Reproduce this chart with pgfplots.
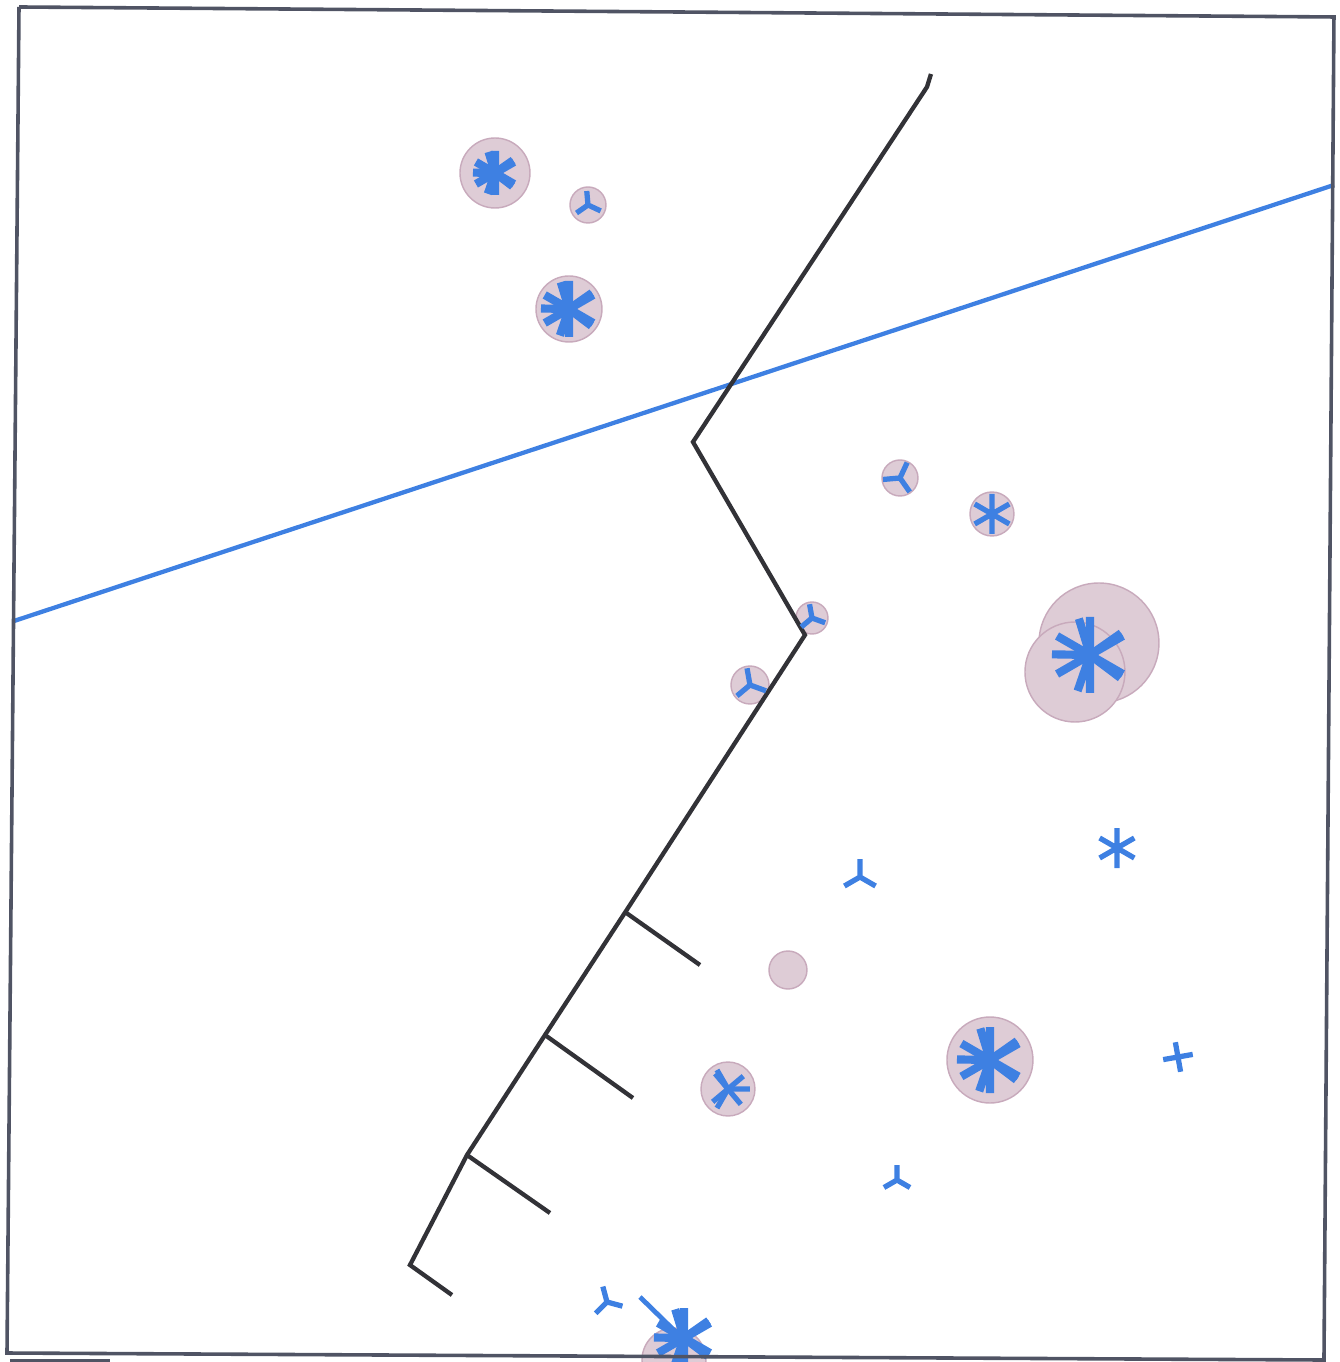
\documentclass[border=0pt]{standalone}
\usepackage{pgfplots}
\pgfplotsset{compat=1.18}
\usepackage{pgfplotstable}
\usetikzlibrary{plotmarks}
\definecolor{pinkc}{RGB}{222,204,214}
\definecolor{pinkd}{RGB}{200,170,188}
\definecolor{bluec}{RGB}{62,128,226}
\definecolor{darkc}{RGB}{50,50,55}
\definecolor{framec}{RGB}{80,84,100}
\pgfplotstableread{
x y r
495 173 35
588 205 18
569 309 33
900 478 18
992 514 22
1099 643 60
1075 672 50
812 618 16
750 685 19
788 970 19
728 1089 27
990 1060 43
674 1360 32
}\circles
\pgfplotstableread{
x y s a
495 173 22 0
569 309 28 0
1090 655 38 0
990 1060 33 0
684 1338 30 0
}\bursts
\pgfplotstableread{
x y s a
588 205 14 5
900 478 17 -25
812 618 14 10
750 685 17 10
728 1089 22 30
860 877 18 0
897 1180 15 0
607 1302 16 15
}\mercs
\pgfplotstableread{
x y s a
992 514 20 0
1117 848 20 0
}\asts
\pgfplotstableread{
x y s a
1178 1057 15 10
728 1089 20 40
}\pluses
\pgfplotsset{
 sized/.style 2 args={scatter, only marks, scatter/use mapped color={#2},
   visualization depends on={0.2089*\thisrow{#1}\as\ms},
   scatter/@pre marker code/.append style={/tikz/mark size=\ms}},
 rotated/.style={visualization depends on={\thisrow{a}\as\ang},
   scatter/@pre marker code/.append style={/tikz/rotate=\ang}}
}
\begin{document}
\begin{tikzpicture}
\begin{axis}[
  scale only axis, width=9.838cm, height=10cm,
  xmin=0, xmax=1340, ymin=0, ymax=1362, y dir=reverse,
  xtick=\empty, ytick=\empty,
  axis line style={draw=none},
  clip marker paths=true,
]
% circles
\addplot[sized={r}{draw=pinkd, fill=pinkc}, mark=*, mark options={line width=0.3pt}] table[x=x,y=y] {\circles};
% blue straight line
\addplot[bluec, line width=0.9pt] coordinates {(14,621) (1334,185)};
% black polyline
\addplot[darkc, line width=0.9pt] coordinates {
(931,74) (927,87) (693,442) (805,635) (628,908) (545,1035) (467,1155) (410,1265) (452,1295)};
\addplot[darkc, line width=0.9pt] coordinates {(625,912) (700,965)};
\addplot[darkc, line width=0.9pt] coordinates {(545,1035) (633,1098)};
\addplot[darkc, line width=0.9pt] coordinates {(467,1155) (550,1213)};
% blue glyphs
\addplot[sized={s}{draw=bluec}, mark=asterisk, mark options={line width=1.7pt}] table[x=x,y=y] {\bursts};
\addplot[sized={s}{draw=bluec}, mark=star, mark options={line width=1.7pt, rotate=17}] table[x=x,y=y] {\bursts};
\addplot[sized={s}{draw=bluec}, rotated, mark=Mercedes star, mark options={line width=1.1pt}] table[x=x,y=y] {\mercs};
\addplot[sized={s}{draw=bluec}, mark=asterisk, mark options={line width=1.1pt}] table[x=x,y=y] {\asts};
\addplot[sized={s}{draw=bluec}, rotated, mark=+, mark options={line width=1.1pt}] table[x=x,y=y] {\pluses};
\addplot[bluec, line width=1pt] coordinates {(640,1297) (682,1338)};
% frame
\addplot[framec, line width=0.75pt] coordinates {(19,7) (1334,17) (1324,1362)};
\addplot[framec, line width=0.75pt] coordinates {(19,7) (7,1353) (1324,1360)};
\addplot[framec, line width=1pt] coordinates {(10,1361) (110,1361)};
\end{axis}
\end{tikzpicture}
\end{document}
